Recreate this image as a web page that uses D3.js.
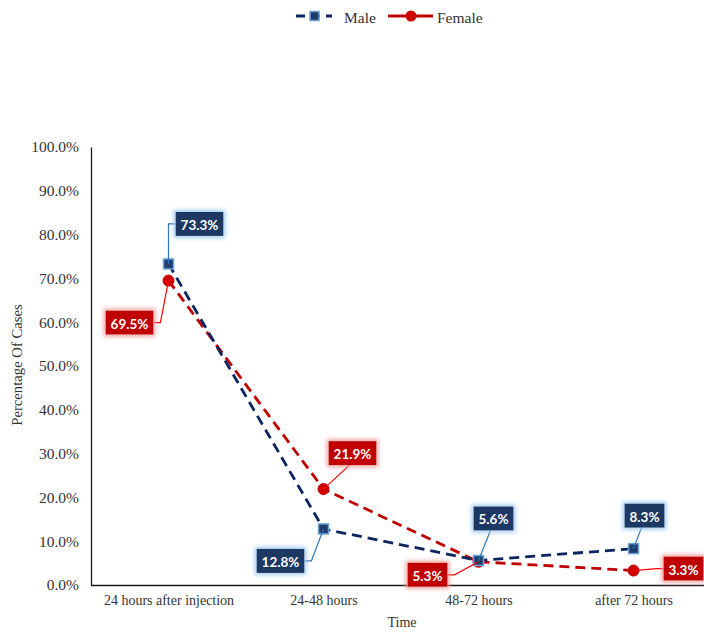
<!DOCTYPE html>
<html>
<head>
<meta charset="utf-8">
<script src="https://cdn.jsdelivr.net/npm/d3@7"></script>
<style>
  body { margin: 0; background: #fff; }
  svg { display: block; }
</style>
</head>
<body>
<script>
// Onset time of reactions by sex
const categories = ["24 hours after injection", "24-48 hours", "48-72 hours", "after 72 hours"];
const maleValues = [73.3, 12.8, 5.6, 8.3];
const femaleValues = [69.5, 21.9, 5.3, 3.3];
const yTicks = [0, 10, 20, 30, 40, 50, 60, 70, 80, 90, 100];

// Callout placement (box centre offset from its point, in px) and leader style
const maleCallouts = [
  { dx: 31, dy: -40, leader: "vh" },
  { dx: -43, dy: 32, leader: "stub" },
  { dx: 15, dy: -42, leader: "bottom" },
  { dx: 11, dy: -33, leader: "bottom" }
];
const femaleCallouts = [
  { dx: -39, dy: 42, leader: "stub" },
  { dx: 29, dy: -36, leader: "bottom" },
  { dx: -51, dy: 13, leader: "stub" },
  { dx: 50, dy: -2, leader: "stub" }
];

const W = 704, H = 632;
const margin = { left: 91, top: 147, right: 711, bottom: 585 };

const svg = d3.select("body").append("svg").attr("width", W).attr("height", H);

const defs = svg.append("defs");
function glow(id, color) {
  const f = defs.append("filter").attr("id", id)
    .attr("x", "-30%").attr("y", "-50%").attr("width", "160%").attr("height", "200%");
  f.append("feMorphology").attr("in", "SourceAlpha").attr("operator", "dilate").attr("radius", 2).attr("result", "d");
  f.append("feGaussianBlur").attr("in", "d").attr("stdDeviation", 2).attr("result", "b");
  f.append("feFlood").attr("flood-color", color).attr("flood-opacity", 0.9);
  f.append("feComposite").attr("in2", "b").attr("operator", "in").attr("result", "g");
  const m = f.append("feMerge");
  m.append("feMergeNode").attr("in", "g");
  m.append("feMergeNode").attr("in", "SourceGraphic");
}
glow("glowBlue", "#9cc8f0");
glow("glowRed", "#f09a9a");

const x = d3.scalePoint().domain(categories).range([margin.left, margin.right]).padding(0.5);
const y = d3.scaleLinear().domain([0, 100]).range([margin.bottom, margin.top]);

const serif = "'Liberation Serif', 'Times New Roman', serif";

// Y axis
const yAxis = svg.append("g").attr("transform", `translate(${margin.left},0)`)
  .call(d3.axisLeft(y).tickValues(yTicks).tickSize(0).tickPadding(12).tickFormat(d => d.toFixed(1) + "%"));
yAxis.select(".domain").attr("stroke", "#1a1a1a").attr("stroke-width", 1.3);
yAxis.selectAll("text").attr("font-family", serif).attr("font-size", 15.5).attr("fill", "#333");

// X axis
const xAxis = svg.append("g").attr("transform", `translate(0,${margin.bottom})`)
  .call(d3.axisBottom(x).tickSize(0).tickPadding(10));
xAxis.select(".domain").attr("d", `M${margin.left},0.5H${W}`).attr("stroke", "#1a1a1a").attr("stroke-width", 1.3);
xAxis.selectAll("text").attr("font-family", serif).attr("font-size", 14).attr("fill", "#333");

// Axis titles
svg.append("text").attr("x", 402).attr("y", 627).attr("text-anchor", "middle")
  .attr("font-family", serif).attr("font-size", 14).attr("fill", "#333").text("Time");
svg.append("text").attr("transform", `translate(22,365) rotate(-90)`).attr("text-anchor", "middle")
  .attr("font-family", serif).attr("font-size", 14.7).attr("fill", "#333").text("Percentage Of Cases");

const maleColor = "#0b2561", femaleColor = "#c00000";

const line = d3.line().x((d, i) => x(categories[i])).y(d => y(d));

svg.append("path").datum(femaleValues).attr("d", line).attr("fill", "none")
  .attr("stroke", femaleColor).attr("stroke-width", 2.8).attr("stroke-dasharray", "10,6");
svg.append("path").datum(maleValues).attr("d", line).attr("fill", "none")
  .attr("stroke", maleColor).attr("stroke-width", 2.8).attr("stroke-dasharray", "10,6");

// Leader lines and callouts
function callouts(values, layout, fill, lineColor, filterId) {
  const g = svg.append("g");
  values.forEach((v, i) => {
    const px = x(categories[i]), py = y(v);
    const L = layout[i];
    const cx = px + L.dx, cy = py + L.dy;
    const label = v.toFixed(1) + "%";
    const t = g.append("text").attr("font-family", "Lato, 'Open Sans', sans-serif").attr("font-weight", "bold")
      .attr("font-size", 13.5).attr("fill", "#fff").attr("text-anchor", "middle")
      .attr("dominant-baseline", "central").text(label);
    const tw = t.node().getComputedTextLength();
    const bw = tw + 10, bh = 24;
    const left = cx - bw / 2, right = cx + bw / 2, top = cy - bh / 2, bottom = cy + bh / 2;
    let pts;
    if (L.leader === "vh") {
      pts = [[px, py], [px, cy], [left, cy]];
    } else if (L.leader === "bottom") {
      const ay = cy > py ? top : bottom;
      pts = [[px, py], [cx - 3, ay]];
    } else {
      const side = px < cx ? left : right;
      const stub = px < cx ? side - 7 : side + 7;
      pts = [[px, py], [stub, cy], [side, cy]];
    }
    g.insert("path", "text").attr("d", d3.line()(pts)).attr("fill", "none")
      .attr("stroke", lineColor).attr("stroke-width", 1.2);
    g.insert("rect", "text").attr("x", left).attr("y", top).attr("width", bw).attr("height", bh)
      .attr("fill", fill).attr("filter", `url(#${filterId})`);
    t.attr("x", cx).attr("y", cy + 1).raise();
  });
}

// Markers
svg.append("g").selectAll("circle").data(femaleValues).join("circle")
  .attr("cx", (d, i) => x(categories[i])).attr("cy", d => y(d)).attr("r", 5.5)
  .attr("fill", "#d00000").attr("stroke", femaleColor).attr("stroke-width", 1);
svg.append("g").selectAll("rect").data(maleValues).join("rect")
  .attr("x", (d, i) => x(categories[i]) - 5).attr("y", d => y(d) - 5)
  .attr("width", 10).attr("height", 10)
  .attr("fill", "#213e6b").attr("stroke", "#6aa5dc").attr("stroke-width", 1.5);

callouts(maleValues, maleCallouts, "#1f3864", "#2e75b6", "glowBlue");
callouts(femaleValues, femaleCallouts, "#c00000", "#ff0000", "glowRed");

// Legend
const lg = svg.append("g").attr("transform", "translate(0,16)");
lg.append("path").attr("d", "M296,0H332").attr("stroke", maleColor).attr("stroke-width", 2.8)
  .attr("stroke-dasharray", "9,6").attr("stroke-dashoffset", 0);
lg.append("rect").attr("x", 310).attr("y", -4.5).attr("width", 9).attr("height", 9)
  .attr("fill", "#213e6b").attr("stroke", "#6aa5dc").attr("stroke-width", 1.5);
lg.append("text").attr("x", 344).attr("y", 1).attr("dominant-baseline", "central")
  .attr("font-family", serif).attr("font-size", 15.5).attr("fill", "#333").text("Male");
lg.append("path").attr("d", "M388,0H433").attr("stroke", femaleColor).attr("stroke-width", 2.8);
lg.append("circle").attr("cx", 411).attr("cy", 0).attr("r", 5.5).attr("fill", "#d00000");
lg.append("text").attr("x", 437).attr("y", 1).attr("dominant-baseline", "central")
  .attr("font-family", serif).attr("font-size", 15.5).attr("fill", "#333").text("Female");
</script>
</body>
</html>
